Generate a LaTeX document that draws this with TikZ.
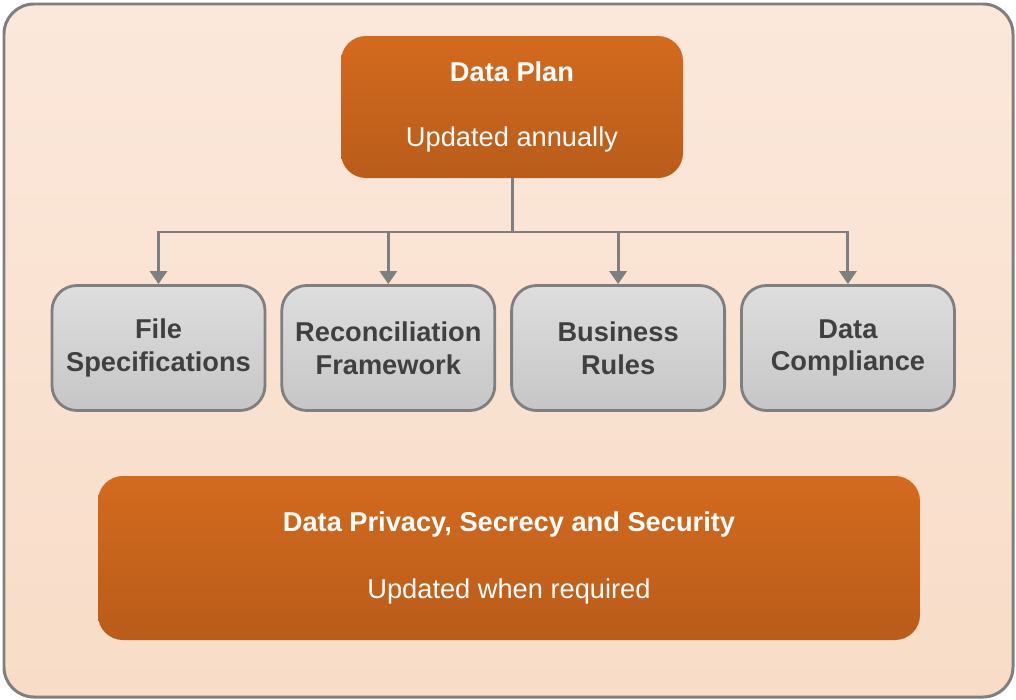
\documentclass[tikz,border=0pt]{standalone}
\usepackage{fontspec}
\setmainfont{Liberation Sans}
\usetikzlibrary{positioning, arrows.meta}
\definecolor{frameGray}{HTML}{7F7F7F}
\definecolor{peachTop}{HTML}{FBE8DB}
\definecolor{peachBot}{HTML}{F8DCC7}
\definecolor{orangeTop}{HTML}{D36A1E}
\definecolor{orangeBot}{HTML}{B95C1A}
\definecolor{boxTop}{HTML}{DEDEDE}
\definecolor{boxBot}{HTML}{C6C6C6}
\definecolor{boxText}{HTML}{404040}
\tikzstyle{orangeNode} = [rectangle, rounded corners=0.5cm, minimum width=6.84cm, minimum height=2.84cm, text centered, align=center, top color=orangeTop, bottom color=orangeBot, text=white, font=\fontsize{15.5}{18.6}\selectfont]
\tikzstyle{greyNode} = [rectangle, rounded corners=0.5cm, minimum width=4.26cm, minimum height=2.5cm, text centered, align=center, draw=frameGray, line width=1.6pt, top color=boxTop, bottom color=boxBot, text=boxText, font=\fontsize{15.5}{18.6}\selectfont\bfseries]
\tikzstyle{line} = [draw=frameGray, line width=1.7pt]
\tikzstyle{arrow} = [line, -{Triangle[width=0.34cm,length=0.26cm]}]

\begin{document}
\begin{tikzpicture}
        \useasboundingbox (0,0) rectangle (20.32,-14);
        \draw [line, rounded corners=0.6cm, top color=peachTop, bottom color=peachBot] (0.08,-0.08) rectangle (20.26,-13.94);

        \node (plan) [orangeNode] at (10.24,-2.14) {\textbf{Data Plan}\\[0.66cm]Updated annually};
        \node (file) [greyNode] at (3.17,-6.96) {File\\Specifications};
        \node (recon) [greyNode, right=0.28cm of file] {Reconciliation\\Framework};
        \node (rules) [greyNode, right=0.28cm of recon] {Business\\Rules};
        \node (comply) [greyNode, right=0.28cm of rules] {Data\\Compliance};
        \node (privacy) [orangeNode, minimum width=16.44cm, minimum height=3.28cm] at (10.18,-11.16) {\textbf{Data Privacy, Secrecy and Security}\\[0.68cm]Updated when required};

        \coordinate (split) at (10.24,-4.64);
        \draw [line] (plan) -- (split);
        \draw [arrow] (split) -| (file);
        \draw [arrow] (split) -| (recon);
        \draw [arrow] (split) -| (rules);
        \draw [arrow] (split) -| (comply);
    \end{tikzpicture}
\end{document}
